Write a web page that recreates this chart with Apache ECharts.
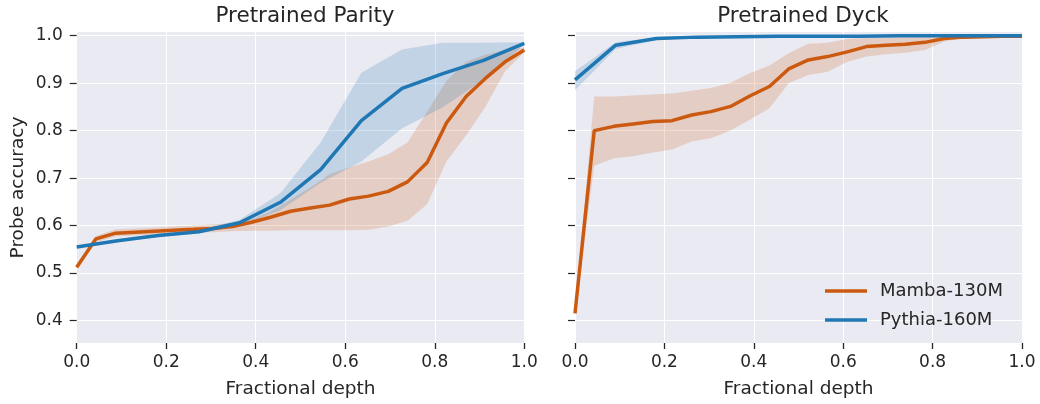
<!DOCTYPE html>
<html>
<head>
<meta charset="utf-8">
<script src="https://cdn.jsdelivr.net/npm/echarts@6/dist/echarts.min.js"></script>
<style>
  html, body { margin: 0; padding: 0; background: #fff; }
  #chart { width: 1040px; height: 404px; }
</style>
</head>
<body>
<div id="chart"></div>
<script>
// layer positions as fraction of depth
const depthMamba = [0, 0.043, 0.087, 0.13, 0.174, 0.217, 0.261, 0.304, 0.348, 0.391, 0.435, 0.478,
  0.522, 0.565, 0.609, 0.652, 0.696, 0.739, 0.783, 0.826, 0.87, 0.913, 0.957, 1.0]
const depthPythia = [0, 0.091, 0.182, 0.273, 0.364, 0.455, 0.545, 0.636, 0.727, 0.818, 0.909, 1.0]

// Pretrained Parity
const parityMamba = [0.512, 0.572, 0.584, 0.586, 0.588, 0.590, 0.592, 0.594, 0.598, 0.607, 0.618, 0.630,
  0.637, 0.643, 0.656, 0.662, 0.672, 0.692, 0.733, 0.816, 0.872, 0.910, 0.945, 0.970]
const parityMambaUpper = [0.515, 0.578, 0.592, 0.594, 0.596, 0.598, 0.600, 0.602, 0.605, 0.613, 0.630, 0.655,
  0.680, 0.708, 0.723, 0.735, 0.750, 0.775, 0.840, 0.905, 0.945, 0.960, 0.970, 0.975]
const parityMambaLower = [0.509, 0.565, 0.577, 0.579, 0.581, 0.583, 0.585, 0.586, 0.588, 0.589, 0.589, 0.590,
  0.590, 0.590, 0.590, 0.591, 0.598, 0.610, 0.645, 0.735, 0.790, 0.850, 0.925, 0.965]
const parityPythia = [0.555, 0.568, 0.579, 0.587, 0.606, 0.649, 0.718, 0.821, 0.889, 0.920, 0.948, 0.984]
const parityPythiaUpper = [0.557, 0.571, 0.582, 0.591, 0.612, 0.668, 0.775, 0.922, 0.971, 0.985, 0.985, 0.986]
const parityPythiaLower = [0.553, 0.565, 0.576, 0.583, 0.600, 0.632, 0.690, 0.735, 0.805, 0.849, 0.907, 0.981]

// Pretrained Dyck
const dyckMamba = [0.415, 0.800, 0.809, 0.814, 0.819, 0.821, 0.833, 0.840, 0.851, 0.873, 0.893, 0.930,
  0.949, 0.956, 0.966, 0.977, 0.980, 0.982, 0.986, 0.994, 0.997, 0.998, 0.999, 0.999]
const dyckMambaUpper = [0.420, 0.872, 0.872, 0.874, 0.876, 0.878, 0.884, 0.890, 0.901, 0.921, 0.937, 0.963,
  0.983, 0.985, 0.993, 0.995, 0.996, 0.997, 0.998, 0.999, 0.999, 1.0, 1.0, 1.0]
const dyckMambaLower = [0.410, 0.726, 0.742, 0.746, 0.754, 0.760, 0.777, 0.784, 0.800, 0.823, 0.847, 0.900,
  0.917, 0.924, 0.945, 0.956, 0.961, 0.964, 0.970, 0.988, 0.995, 0.996, 0.998, 0.998]
const dyckPythia = [0.907, 0.980, 0.994, 0.997, 0.998, 0.999, 0.999, 0.999, 1.0, 1.0, 1.0, 1.0]
const dyckPythiaUpper = [0.925, 0.986, 0.997, 0.999, 1.0, 1.0, 1.0, 1.0, 1.0, 1.0, 1.0, 1.0]
const dyckPythiaLower = [0.885, 0.972, 0.991, 0.995, 0.997, 0.998, 0.998, 0.999, 1.0, 1.0, 1.0, 1.0]

const titles = ['Pretrained Parity', 'Pretrained Dyck']
const yTicks = [0.4, 0.5, 0.6, 0.7, 0.8, 0.9, 1.0]

const MAMBA = '#cb5a10'
const PYTHIA = '#1f77b4'
const FONT = 'DejaVu Sans'
const TEXT = '#262626'

const pairs = (xs, ys) => xs.map((x, i) => [x, ys[i]])

// shaded band between lower and upper, drawn as one polygon
function band(idx, xs, lower, upper, color) {
  return {
    type: 'custom', xAxisIndex: idx, yAxisIndex: idx, silent: true, z: 1,
    data: xs.map((x, i) => [x, lower[i], upper[i]]),
    encode: { x: 0, y: [1, 2] },
    renderItem: (params, api) => {
      if (params.dataIndex !== 0) return null
      const pts = []
      xs.forEach((x, i) => pts.push(api.coord([x, upper[i]])))
      for (let i = xs.length - 1; i >= 0; i--) pts.push(api.coord([xs[i], lower[i]]))
      return { type: 'polygon', shape: { points: pts }, style: { fill: color } }
    }
  }
}

function meanLine(idx, name, xs, ys, color, z) {
  return {
    type: 'line', name: name, xAxisIndex: idx, yAxisIndex: idx,
    symbol: 'none', z: z,
    lineStyle: { color: color, width: 3.5 },
    itemStyle: { color: color },
    data: pairs(xs, ys)
  }
}

function xAxis(idx) {
  return {
    type: 'value', gridIndex: idx, min: 0, max: 1, interval: 0.2,
    name: 'Fractional depth', nameLocation: 'middle', nameGap: 37,
    nameTextStyle: { fontFamily: FONT, fontSize: 18.5, color: TEXT },
    axisLine: { show: false, onZero: false },
    axisTick: { show: true, length: 6, lineStyle: { color: TEXT, width: 1.3 } },
    axisLabel: { fontFamily: FONT, fontSize: 17, color: TEXT, margin: 11, formatter: v => v.toFixed(1) },
    splitLine: { show: true, lineStyle: { color: '#ffffff', width: 1 } }
  }
}

function yAxis(idx) {
  return {
    type: 'value', gridIndex: idx, min: 0.3525, max: 1.0078,
    name: idx === 0 ? 'Probe accuracy' : '', nameLocation: 'middle', nameGap: 49,
    nameTextStyle: { fontFamily: FONT, fontSize: 18.5, color: TEXT },
    axisLine: { show: false, onZero: false },
    axisTick: { show: true, length: 7, customValues: yTicks, lineStyle: { color: TEXT, width: 1.2 } },
    axisLabel: {
      show: idx === 0, customValues: yTicks, fontFamily: FONT, fontSize: 17, color: TEXT, margin: 14,
      formatter: v => v.toFixed(1)
    },
    splitLine: { show: true, customValues: yTicks, lineStyle: { color: '#ffffff', width: 1 } }
  }
}

const chart = echarts.init(document.getElementById('chart'), null, { renderer: 'canvas' })

chart.setOption({
  animation: false,
  backgroundColor: '#ffffff',
  title: [
    { text: titles[0], left: 300, top: 0, textAlign: 'center',
      textStyle: { fontFamily: FONT, fontSize: 21.5, fontWeight: 'normal', color: TEXT } },
    { text: titles[1], left: 798, top: 0, textAlign: 'center',
      textStyle: { fontFamily: FONT, fontSize: 21.5, fontWeight: 'normal', color: TEXT } }
  ],
  grid: [
    { left: 76.7, right: 515.7, top: 32, bottom: 60.7, show: true, backgroundColor: '#eaeaf2', borderWidth: 0 },
    { left: 575, right: 18, top: 32, bottom: 60.7, show: true, backgroundColor: '#eaeaf2', borderWidth: 0 }
  ],
  legend: {
    data: ['Mamba-130M', 'Pythia-160M'],
    orient: 'vertical', left: 825, top: 282, padding: 0,
    itemWidth: 42, itemHeight: 3.5, itemGap: 11, icon: 'rect',
    textStyle: { fontFamily: FONT, fontSize: 18, color: TEXT, padding: [0, 0, 0, 8] }
  },
  xAxis: [xAxis(0), xAxis(1)],
  yAxis: [yAxis(0), yAxis(1)],
  series: [
    band(0, depthMamba, parityMambaLower, parityMambaUpper, 'rgba(203,90,16,0.2)'),
    band(0, depthPythia, parityPythiaLower, parityPythiaUpper, 'rgba(31,119,180,0.2)'),
    band(1, depthMamba, dyckMambaLower, dyckMambaUpper, 'rgba(203,90,16,0.2)'),
    band(1, depthPythia, dyckPythiaLower, dyckPythiaUpper, 'rgba(31,119,180,0.2)'),
    meanLine(0, 'Mamba-130M', depthMamba, parityMamba, MAMBA, 3),
    meanLine(0, 'Pythia-160M', depthPythia, parityPythia, PYTHIA, 4),
    meanLine(1, 'Mamba-130M', depthMamba, dyckMamba, MAMBA, 3),
    meanLine(1, 'Pythia-160M', depthPythia, dyckPythia, PYTHIA, 4)
  ]
})

window.addEventListener('resize', () => chart.resize())
</script>
</body>
</html>
